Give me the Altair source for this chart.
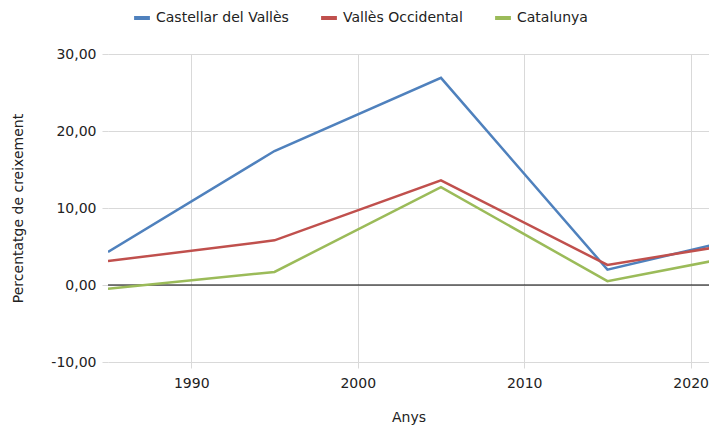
import altair as alt
import pandas as pd

series = ["Castellar del Vallès", "Vallès Occidental", "Catalunya"]
years = [1985, 1995, 2005, 2015, 2021.5]
castellar = [4.3, 17.4, 26.9, 2.0, 5.3]
valles = [3.1, 5.8, 13.6, 2.6, 4.9]
catalunya = [-0.5, 1.7, 12.7, 0.5, 3.2]
colors = ["#4f81bd", "#c0504d", "#9bbb59"]

rows = []
for name, vals in zip(series, [castellar, valles, catalunya]):
    for yr, v in zip(years, vals):
        rows.append({"Any": yr, "Valor": v, "Serie": name})
df = pd.DataFrame(rows)

font = "DejaVu Sans"

lines = alt.Chart(df).mark_line(strokeWidth=2.5, clip=True).encode(
    x=alt.X("Any:Q", scale=alt.Scale(domain=[1985, 2021.1], nice=False, zero=False),
            axis=alt.Axis(title="Anys", values=[1990, 2000, 2010, 2020], format="d",
                          grid=True, gridColor="#d9d9d9", tickColor="#d9d9d9", tickSize=6,
                          domain=False, labelFontSize=14, labelPadding=8, titlePadding=20,
                          titleFontSize=14, titleFontWeight="normal", labelColor="#222",
                          titleColor="#222", labelFont=font, titleFont=font)),
    y=alt.Y("Valor:Q", scale=alt.Scale(domain=[-10, 30], nice=False),
            axis=alt.Axis(title="Percentatge de creixement", values=[-10, 0, 10, 20, 30],
                          labelExpr="replace(replace(format(datum.value, '.2f'), '.', ','), '\u2212', '-')",
                          grid=True, gridColor="#d9d9d9", tickColor="#d9d9d9", tickSize=6,
                          domain=False, labelFontSize=14, labelPadding=6, titlePadding=25,
                          titleFontSize=14, titleFontWeight="normal", labelColor="#222",
                          titleColor="#222", labelFont=font, titleFont=font)),
    color=alt.Color("Serie:N", scale=alt.Scale(domain=series, range=colors),
                    sort=series,
                    legend=alt.Legend(title=None, orient="none", legendX=24, legendY=-46,
                                      direction="horizontal", symbolType="stroke",
                                      symbolStrokeWidth=4, symbolSize=250, labelFontSize=14,
                                      labelFont=font, labelColor="#222", columnPadding=24)),
)

zero = alt.Chart(pd.DataFrame({"y": [0]})).mark_rule(color="black", strokeWidth=1).encode(
    y=alt.Y("y:Q")
)

chart = alt.layer(zero, lines).properties(
    width=601, height=308,
    autosize=alt.AutoSizeParams(type="none"),
    padding={"left": 100, "top": 46, "right": 0, "bottom": 65},
).configure_view(stroke=None)

chart.save("out.html", embed_options={"renderer": "svg", "actions": False})
